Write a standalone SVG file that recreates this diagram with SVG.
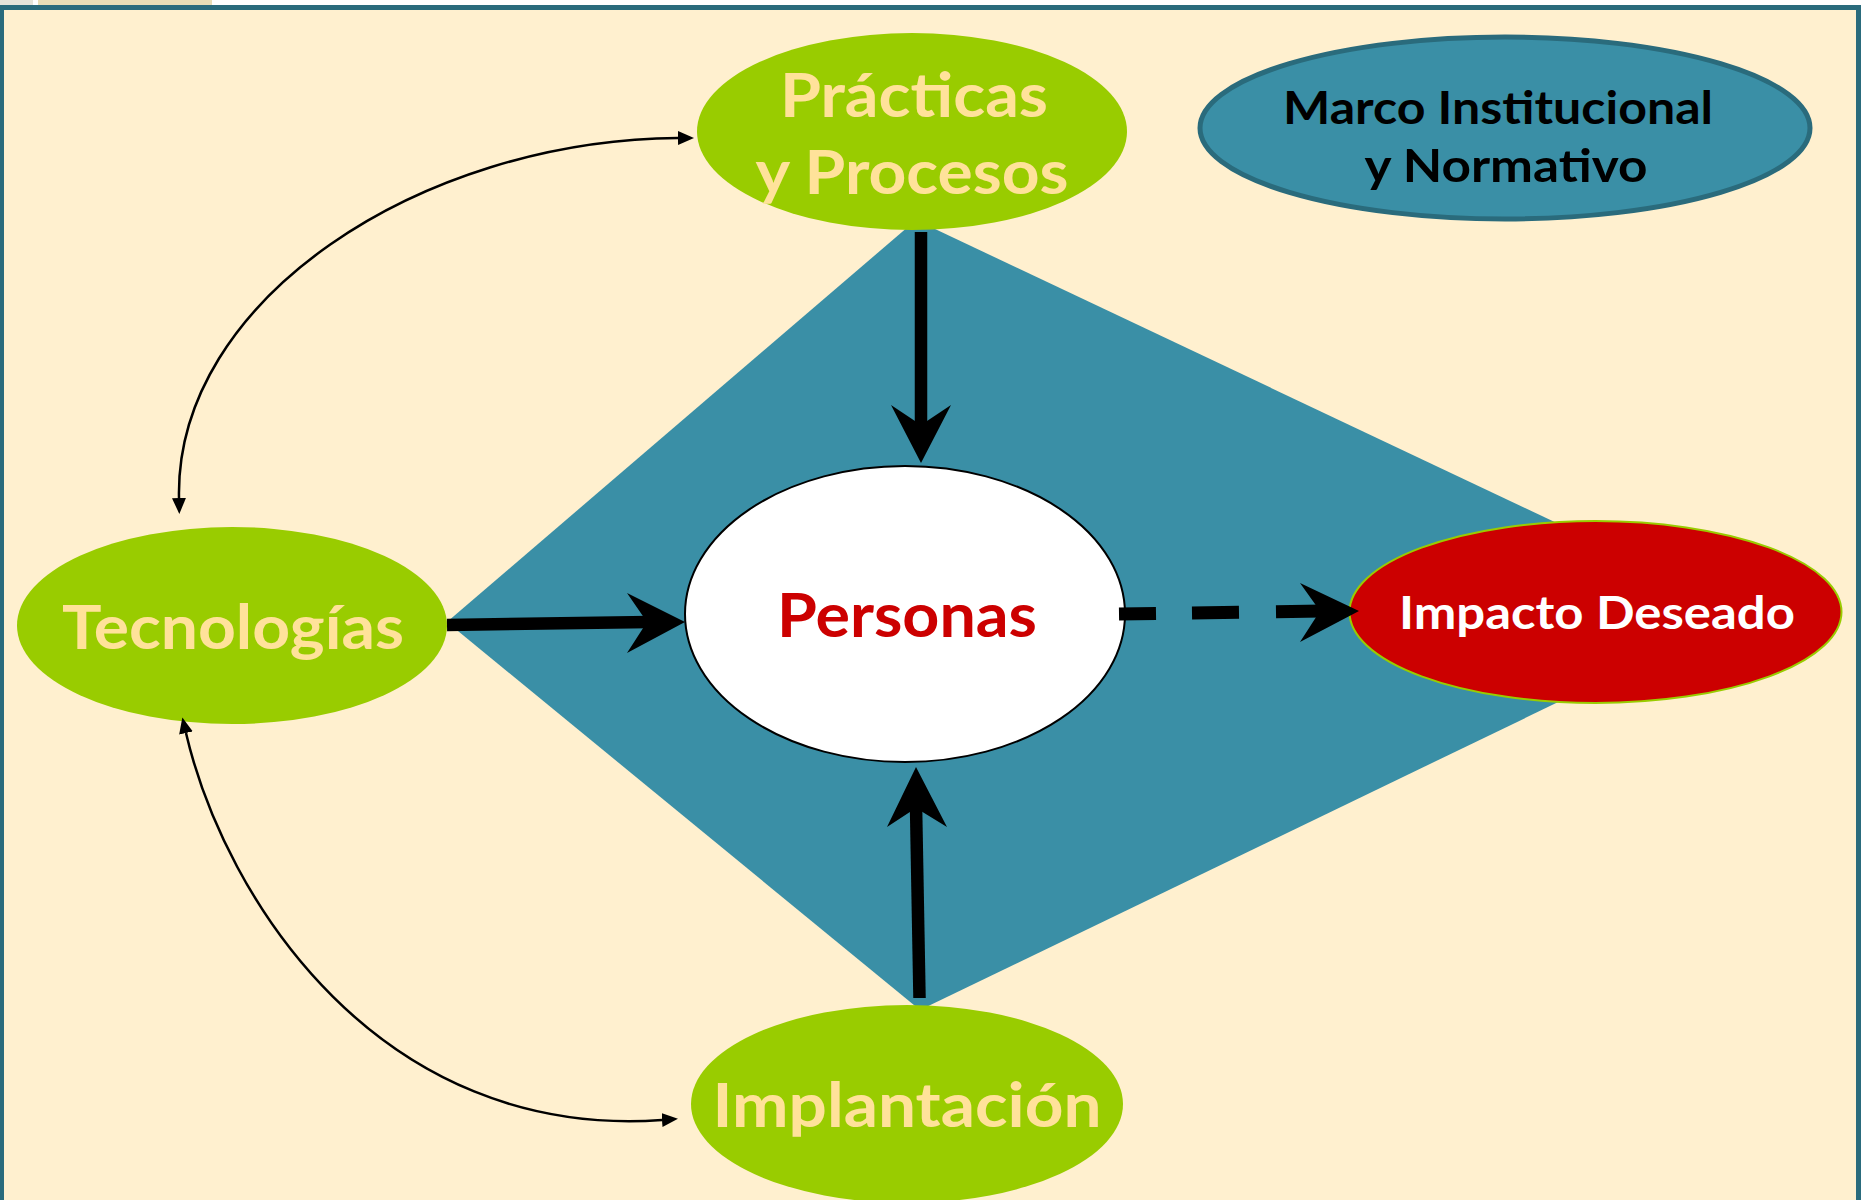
<svg xmlns="http://www.w3.org/2000/svg" width="1863" height="1200" viewBox="0 0 1863 1200">
  <style>
    .green { fill: #99CC00; }
    .gtxt { font-family: Lato, "Liberation Sans", sans-serif; font-weight: bold; font-size: 61px; fill: #FFE29A; text-anchor: middle; }
    .btxt { font-family: Lato, "Liberation Sans", sans-serif; font-weight: bold; font-size: 45px; fill: #000000; text-anchor: middle; }
    .thin { fill: none; stroke: #000000; stroke-width: 2.5; }
    .thick { fill: none; stroke: #000000; stroke-width: 12.5; }
    .head { fill: #000000; }
  </style>
  <defs>
    <marker id="tri" markerUnits="userSpaceOnUse" markerWidth="16" markerHeight="14" refX="0" refY="7" orient="auto-start-reverse" viewBox="0 0 16 14">
      <path d="M0,0 L16,7 L0,14 z" fill="#000000"/>
    </marker>
  </defs>

  <!-- background -->
  <rect x="0" y="0" width="1863" height="1200" fill="#FFFFFF"/>
  <rect x="0" y="0" width="33" height="5" fill="#E6E4DA"/>
  <rect x="38" y="0" width="174" height="5" fill="#E9DDB6"/>
  <rect x="1.5" y="7.5" width="1857" height="1200" fill="#FFF0CF" stroke="#2A6B7C" stroke-width="5"/>

  <!-- framework diamond -->
  <polygon id="diamond" points="916,220 1745,612 920,1010 447,622" fill="#3A8FA6"/>

  <g id="node-practicas">
    <ellipse class="green" cx="912" cy="131.5" rx="215" ry="98.5"/>
    <text class="gtxt" x="914" y="117" textLength="268" lengthAdjust="spacingAndGlyphs">Prácticas</text>
    <text class="gtxt" x="912" y="194" textLength="313" lengthAdjust="spacingAndGlyphs">y Procesos</text>
  </g>

  <g id="node-marco">
    <ellipse cx="1505" cy="128" rx="305" ry="91" fill="#3A8FA6" stroke="#2A6B7C" stroke-width="5"/>
    <text class="btxt" x="1498" y="124" textLength="430" lengthAdjust="spacingAndGlyphs">Marco Institucional</text>
    <text class="btxt" x="1506" y="182" textLength="283" lengthAdjust="spacingAndGlyphs">y Normativo</text>
  </g>

  <g id="node-tecnologias">
    <ellipse class="green" cx="232" cy="625.5" rx="215" ry="98.5"/>
    <text class="gtxt" x="233" y="649" textLength="342" lengthAdjust="spacingAndGlyphs">Tecnologías</text>
  </g>

  <g id="node-personas">
    <ellipse cx="905" cy="614" rx="220" ry="148" fill="#FFFFFF" stroke="#000000" stroke-width="2"/>
    <text class="gtxt" x="907" y="637" style="fill:#CC0000" textLength="260" lengthAdjust="spacingAndGlyphs">Personas</text>
  </g>

  <g id="node-impacto">
    <ellipse cx="1595.5" cy="612" rx="246" ry="91" fill="#CC0000" stroke="#99CC00" stroke-width="2"/>
    <text class="btxt" x="1597" y="629" style="fill:#FFFFFF" textLength="396" lengthAdjust="spacingAndGlyphs">Impacto Deseado</text>
  </g>

  <g id="node-implantacion">
    <ellipse class="green" cx="907" cy="1104" rx="216" ry="99"/>
    <text class="gtxt" x="907" y="1127" textLength="389" lengthAdjust="spacingAndGlyphs">Implantación</text>
  </g>

  <g id="connectors">
    <!-- curved bidirectional arrows -->
    <path class="thin" d="M179,498 C175,300 420,140 678,138" marker-start="url(#tri)" marker-end="url(#tri)"/>
    <path class="thin" d="M186,733 C225,900 380,1140 662,1120" marker-start="url(#tri)" marker-end="url(#tri)"/>

    <!-- Prácticas -> Personas -->
    <line class="thick" x1="921" y1="232" x2="921" y2="428"/>
    <polygon class="head" points="921,463 951,405 921,425 891,405"/>

    <!-- Tecnologías -> Personas -->
    <line class="thick" x1="447" y1="625" x2="650" y2="622"/>
    <polygon class="head" points="685,622 627,593 647,622 627,653"/>

    <!-- Implantación -> Personas -->
    <line class="thick" x1="919.5" y1="998" x2="916" y2="805"/>
    <polygon class="head" points="916,767 947,827 916,808 887,827"/>

    <!-- Personas -> Impacto (dashed) -->
    <path d="M1119,614 L1322,611" fill="none" stroke="#000000" stroke-width="13" stroke-dasharray="37 36 47 37 200"/>
    <polygon class="head" points="1359,611 1300,583 1320,611 1300,642"/>
  </g>
</svg>
